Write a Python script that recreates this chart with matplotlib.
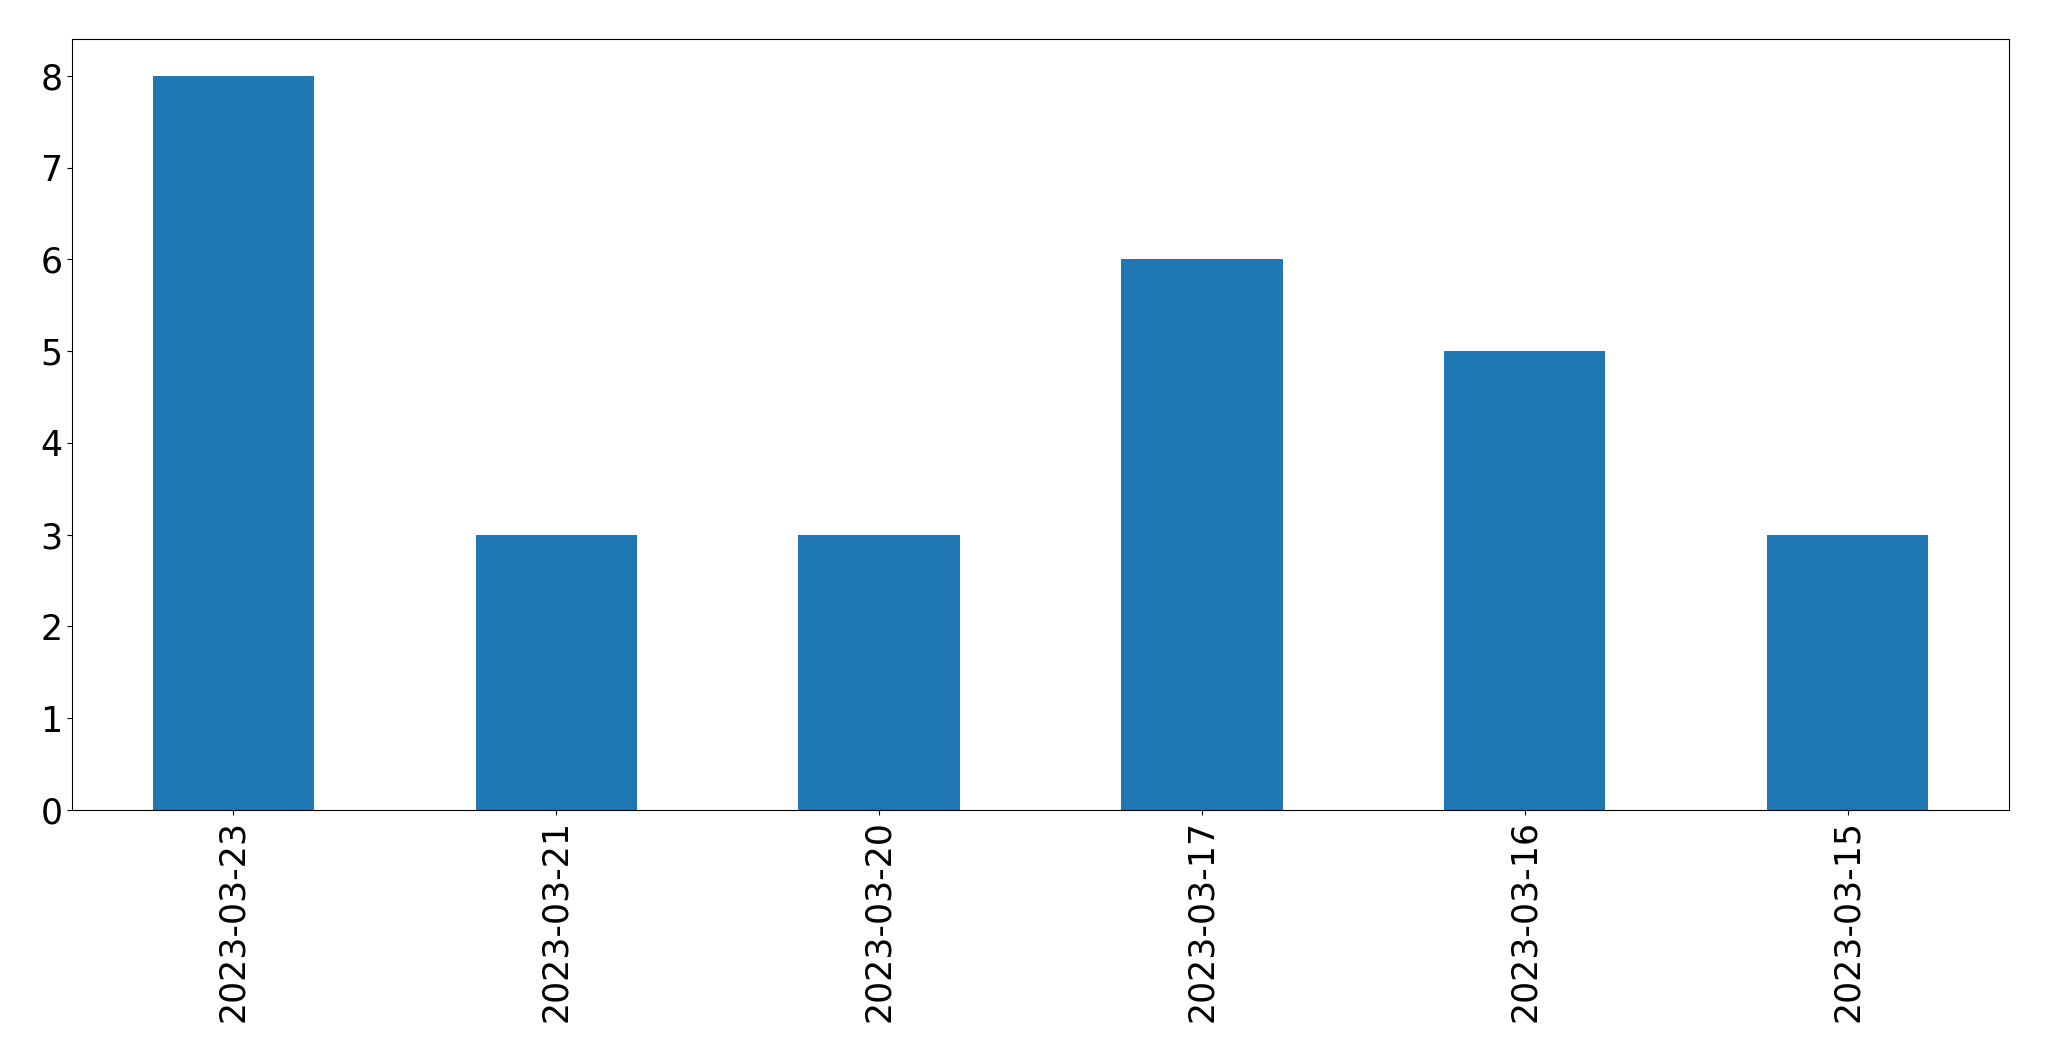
import matplotlib
matplotlib.use("Agg")
import matplotlib.pyplot as plt

dates = ["2023-03-23", "2023-03-21", "2023-03-20", "2023-03-17", "2023-03-16", "2023-03-15"]
counts = [8, 3, 3, 6, 5, 3]

fig = plt.figure(figsize=(20.49, 10.61), dpi=100)
ax = fig.add_axes([72/2049, 1 - 810/1061, (2009-72)/2049, (810-39)/1061])
x = list(range(len(dates)))
ax.bar(x, counts, width=0.5, color="#1f77b4")
ax.set_xlim(-0.5, len(dates) - 0.5)
ax.set_xticks(x)
ax.set_xticklabels(dates, rotation=90)
ax.tick_params(axis="both", labelsize=25)
fig.savefig("out.png", dpi=100)
